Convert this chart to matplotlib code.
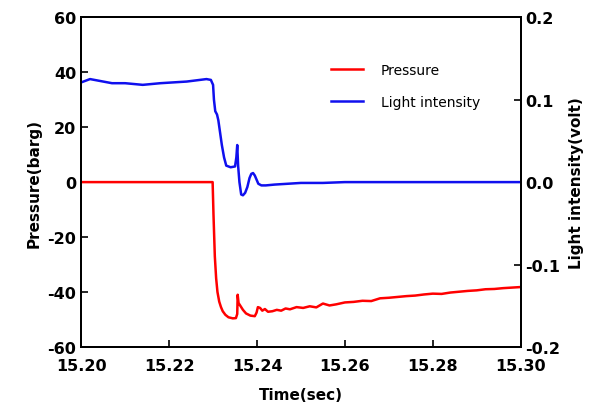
import numpy as np
import matplotlib.pyplot as plt

# pressure trace (barg)
t_p = [15.200, 15.2299, 15.2301, 15.2304, 15.2307, 15.2310, 15.2314, 15.2318, 15.2322,
       15.2328, 15.2335, 15.2345, 15.2352, 15.2355, 15.2356, 15.2358, 15.2362, 15.2368,
       15.2375, 15.2385, 15.2395, 15.2399, 15.2402, 15.2407, 15.2412, 15.2418, 15.2425,
       15.2435, 15.2445, 15.2455, 15.2465, 15.2475, 15.2490, 15.2505, 15.2520, 15.2535,
       15.2550, 15.2565, 15.2580, 15.2600, 15.2620, 15.2640, 15.2660, 15.2680, 15.2700,
       15.2720, 15.2740, 15.2760, 15.2780, 15.2800, 15.2820, 15.2840, 15.2860, 15.2880,
       15.2900, 15.2920, 15.2940, 15.2960, 15.2980, 15.3000]
pressure = [0, 0, -12, -27, -35, -40, -43.5, -45.5, -47,
            -48.3, -49.2, -49.6, -49.5, -48, -41, -44, -45, -46.5,
            -47.8, -48.6, -48.8, -47.5, -45.5, -45.8, -46.8, -46.2, -47.2,
            -47, -46.5, -46.8, -46, -46.3, -45.5, -45.8, -45.2, -45.6,
            -44.2, -44.9, -44.5, -43.8, -43.6, -43.2, -43.3, -42.3, -42.1,
            -41.8, -41.5, -41.3, -40.9, -40.6, -40.7, -40.2, -39.9, -39.6,
            -39.4, -39.0, -38.9, -38.6, -38.4, -38.2]

# light intensity trace (volt)
t_l = [15.2000, 15.2020, 15.2040, 15.2070, 15.2100, 15.2140, 15.2180, 15.2210, 15.2240,
       15.2270, 15.2285, 15.2295, 15.2300, 15.2302, 15.2305, 15.2309, 15.2312, 15.2316,
       15.2320, 15.2325, 15.2330, 15.2340, 15.2350, 15.2353, 15.2355, 15.2357, 15.2360,
       15.2364, 15.2368, 15.2373, 15.2378, 15.2383, 15.2387, 15.2391, 15.2395, 15.2399,
       15.2403, 15.2410, 15.2420, 15.2440, 15.2470, 15.2500, 15.2550, 15.2600, 15.2700,
       15.2800, 15.2900, 15.3000]
light = [0.121, 0.125, 0.123, 0.120, 0.120, 0.118, 0.120, 0.121, 0.122,
         0.124, 0.125, 0.124, 0.118, 0.100, 0.086, 0.082, 0.075, 0.060,
         0.045, 0.030, 0.020, 0.018, 0.019, 0.030, 0.045, 0.020, 0.000,
         -0.015, -0.016, -0.013, -0.006, 0.005, 0.010, 0.011, 0.008, 0.003,
         -0.002, -0.004, -0.004, -0.003, -0.002, -0.001, -0.001, 0.000, 0.000,
         0.000, 0.000, 0.000]

plt.rcParams['font.family'] = ['DejaVu Sans']
plt.rcParams['axes.unicode_minus'] = False

fig, ax = plt.subplots(figsize=(5.93, 4.06), dpi=100)
fig.subplots_adjust(left=0.137, right=0.878, top=0.955, bottom=0.143)
ax2 = ax.twinx()

l1, = ax.plot(t_p, pressure, color='red', lw=1.8, label='Pressure')
l2, = ax2.plot(t_l, light, color='#1010ee', lw=1.8, label='Light intensity')

ax.set_xlim(15.20, 15.30)
ax.set_ylim(-60, 60)
ax2.set_ylim(-0.2, 0.2)
ax.set_xticks(np.arange(15.20, 15.301, 0.02))
ax.set_xticklabels(['15.20', '15.22', '15.24', '15.26', '15.28', '15.30'])
ax.set_yticks([-60, -40, -20, 0, 20, 40, 60])
ax2.set_yticks([-0.2, -0.1, 0.0, 0.1, 0.2])
ax2.set_yticklabels(['-0.2', '-0.1', '0.0', '0.1', '0.2'])

for a in (ax, ax2):
    a.tick_params(direction='in', length=5, width=1.2, labelsize=11.5)
    for lab in a.get_xticklabels() + a.get_yticklabels():
        lab.set_fontweight('bold')
    for s in a.spines.values():
        s.set_linewidth(1.4)
ax.tick_params(axis='x', pad=8)

ax.set_xlabel('Time(sec)', fontsize=11, fontweight='bold', labelpad=10)
ax.set_ylabel('Pressure(barg)', fontsize=11, fontweight='bold', labelpad=4)
ax2.set_ylabel('Light intensity(volt)', fontsize=11, fontweight='bold', labelpad=6)

ax.legend([l1, l2], ['Pressure', 'Light intensity'], loc='upper left',
          bbox_to_anchor=(0.54, 0.9), frameon=False, fontsize=10,
          handlelength=2.3, handletextpad=1.3, labelspacing=1.3)

fig.savefig('out.png', dpi=100)
